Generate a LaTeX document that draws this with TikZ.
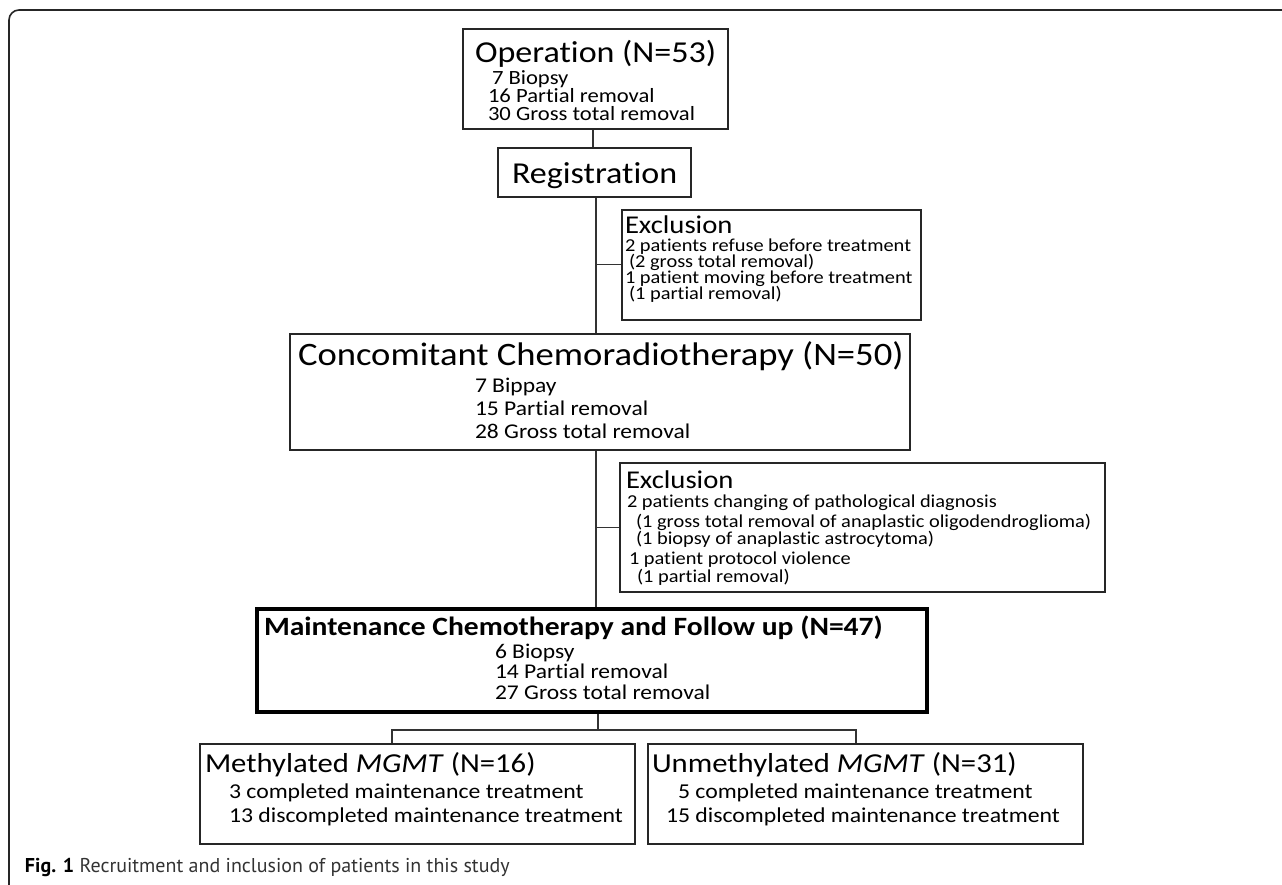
\documentclass[tikz,border=0pt]{standalone}
\usepackage{fontspec}
\setmainfont{Carlito}[FakeStretch=1.12,Ligatures=NoCommon,RawFeature={-liga;-clig;-calt;-dlig}]
\newfontfamily\capfont{PT Sans}
\newcommand\tii{t\kern0pt i}
\begin{document}
\begin{tikzpicture}[x=0.5pt,y=-0.5pt,
  box/.style={draw=black!85, line width=0.75pt, inner sep=0pt, anchor=north west},
  boldbox/.style={draw=black, line width=2pt, inner sep=0pt, anchor=north west},
  conn/.style={draw=black!80, line width=0.55pt},
  txt/.style={anchor=base west, inner sep=0pt, outer sep=0pt},
  fbig/.style={font=\fontsize{15.2}{15.2}\selectfont},
  fop/.style={font=\fontsize{10.1}{10.1}\selectfont},
  fexh/.style={font=\fontsize{12.8}{12.8}\selectfont},
  fex/.style={font=\fontsize{9.1}{9.1}\selectfont},
  fcot/.style={font=\fontsize{16.35}{16.35}\selectfont},
  fmid/.style={font=\fontsize{10.5}{10.5}\selectfont},
  fmat/.style={font=\bfseries\fontsize{13.2}{13.2}\selectfont},
  fbt/.style={font=\fontsize{13.7}{13.7}\selectfont},
  fbl/.style={font=\fontsize{10.6}{10.6}\selectfont},
]
\useasboundingbox (0,0) rectangle (1282,885);
% outer frame
\draw[line width=0.8pt, black!85, rounded corners=5pt] (9,885) -- (9,10) -- (1282,10);

% boxes
\node[box, minimum width=132.5pt, minimum height=50pt] (op) at (462,28) {};
\node[box, minimum width=96.5pt, minimum height=24.5pt] (reg) at (497,147) {};
\node[box, minimum width=149.5pt, minimum height=55pt] (ex1) at (621,209) {};
\node[box, minimum width=310pt, minimum height=58pt] (co) at (289,333) {};
\node[box, minimum width=242.5pt, minimum height=64.5pt] (ex2) at (619,462) {};
\node[boldbox, minimum width=335pt, minimum height=51.5pt] (ma) at (255,607) {};
\node[box, minimum width=217.5pt, minimum height=50pt] (ml) at (199,743) {};
\node[box, minimum width=217.5pt, minimum height=50pt] (mr) at (647,743) {};

% texts
\node[txt, fbig] (op-t) at (475,62) {Opera\tii on\hspace{0.25em}(N=53)};
\node[txt, fop] (op-1) at (492,84) {7 Biopsy};
\node[txt, fop] (op-2) at (488,102) {16 Par\tii al removal};
\node[txt, fop] (op-3) at (488,120) {30 Gross total removal};

\node[txt, fbig] (reg-t) at (512,183) {Registra\tii on};

\node[txt, fexh] (ex1-t) at (625,233) {Exclusion};
\node[txt, fex] (ex1-1) at (625,251) {2 pa\tii ents refuse before treatment};
\node[txt, fex] (ex1-2) at (629,267) {(2 gross total removal)};
\node[txt, fex] (ex1-3) at (625,283) {1 pa\tii ent moving before treatment};
\node[txt, fex] (ex1-4) at (629,299) {(1 par\tii al removal)};

\node[txt, fcot] (co-t) at (298,365) {Concomitant Chemoradiotherapy (N=50)};
\node[txt, fmid] (co-1) at (475,392) {7 Bippay};
\node[txt, fmid] (co-2) at (475,415) {15 Par\tii al removal};
\node[txt, fmid] (co-3) at (475,438) {28 Gross total removal};

\node[txt, fexh] (ex2-t) at (626,488) {Exclusion};
\node[txt, fex] (ex2-1) at (627,507) {2 pa\tii ents changing of pathological diagnosis};
\node[txt, fex] (ex2-2) at (636,527) {(1 gross total removal of anaplastic oligodendroglioma)};
\node[txt, fex] (ex2-3) at (636,544) {(1 biopsy of anaplastic astrocytoma)};
\node[txt, fex] (ex2-4) at (629,564) {1 pa\tii ent protocol violence};
\node[txt, fex] (ex2-5) at (637,582) {(1 par\tii al removal)};

\node[txt, fmat] (ma-t) at (264,635) {Maintenance Chemotherapy and Follow up (N=47)};
\node[txt, fmid] (ma-1) at (495,658) {6 Biopsy};
\node[txt, fmid] (ma-2) at (495,678) {14 Par\tii al removal};
\node[txt, fmid] (ma-3) at (495,699) {27 Gross total removal};

\node[txt, fbt] (ml-t) at (205,772) {Methylated \textit{MGMT} (N=16)};
\node[txt, fbl] (ml-1) at (229,798) {3 completed maintenance treatment};
\node[txt, fbl] (ml-2) at (229,822) {13 discompleted maintenance treatment};

\node[txt, fbt] (mr-t) at (652,772) {Unmethylated \textit{MGMT} (N=31)};
\node[txt, fbl] (mr-1) at (678,798) {5 completed maintenance treatment};
\node[txt, fbl] (mr-2) at (666,822) {15 discompleted maintenance treatment};

\node[txt, font=\capfont\fontsize{10}{10}\selectfont, text=black!80] (cap) at (25,872) {{\bfseries\color{black}Fig. 1} Recruitment and inclusion of patients in this study};

% connectors
\coordinate (upper) at (593,0);
\coordinate (spine) at (596,0);
\coordinate (split) at (598,730);
\coordinate (dl) at (392,730);
\coordinate (dr) at (856,730);
\draw[conn] (op.south -| upper) -- (reg.north -| upper);
\draw[conn] (reg.south -| spine) -- (co.north -| spine);
\draw[conn] (ex1.west -| spine) -- (ex1.west);
\draw[conn] (co.south -| spine) -- (ma.north -| spine);
\draw[conn] (ex2.west -| spine) -- (ex2.west);
\draw[conn] (ma.south -| split) -- (split);
\draw[conn] (ml.north -| dl) -- (dl) -- (dr) -- (mr.north -| dr);
\end{tikzpicture}
\end{document}
